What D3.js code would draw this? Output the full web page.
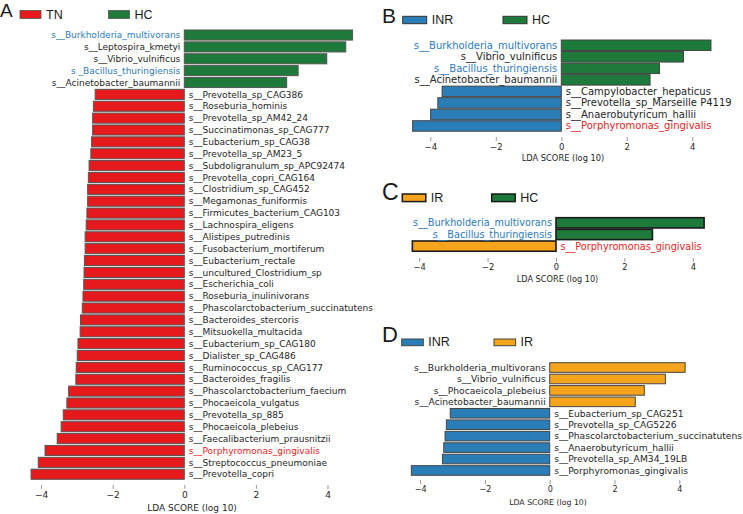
<!DOCTYPE html>
<html>
<head>
<meta charset="utf-8">
<script src="https://cdn.jsdelivr.net/npm/d3@7/dist/d3.min.js"></script>
<style>
  html, body { margin: 0; padding: 0; background: #ffffff; }
  svg { display: block; }
</style>
</head>
<body>
<svg id="chart" width="743" height="514"></svg>
<script>
// ---------------- DATA ----------------
const aSpecies = ["s__Burkholderia_multivorans","s__Leptospira_kmetyi","s__Vibrio_vulnificus","s _Bacillus_thuringiensis","s__Acinetobacter_baumannii","s__Prevotella_sp_CAG386","s__Roseburia_hominis","s__Prevotella_sp_AM42_24","s__Succinatimonas_sp_CAG777","s__Eubacterium_sp_CAG38","s__Prevotella_sp_AM23_5","s__Subdoligranulum_sp_APC92474","s__Prevotella_copri_CAG164","s__Clostridium_sp_CAG452","s__Megamonas_funiformis","s__Firmicutes_bacterium_CAG103","s__Lachnospira_eligens","s__Alistipes_putredinis","s__Fusobacterium_mortiferum","s__Eubacterium_rectale","s__uncultured_Clostridium_sp","s__Escherichia_coli","s__Roseburia_inulinivorans","s__Phascolarctobacterium_succinatutens","s__Bacteroides_stercoris","s__Mitsuokella_multacida","s__Eubacterium_sp_CAG180","s__Dialister_sp_CAG486","s__Ruminococcus_sp_CAG177","s__Bacteroides_fragilis","s__Phascolarctobacterium_faecium","s__Phocaeicola_vulgatus","s__Prevotella_sp_885","s__Phocaeicola_plebeius","s__Faecalibacterium_prausnitzii","s__Porphyromonas_gingivalis","s__Streptococcus_pneumoniae","s__Prevotella_copri"];
const aScores = [4.70,4.51,3.98,3.18,2.86,-2.49,-2.54,-2.56,-2.56,-2.59,-2.61,-2.66,-2.68,-2.70,-2.70,-2.72,-2.74,-2.77,-2.77,-2.79,-2.80,-2.81,-2.83,-2.85,-2.90,-2.91,-2.97,-2.99,-3.02,-3.03,-3.23,-3.28,-3.38,-3.44,-3.55,-3.89,-4.08,-4.28];
const aGroups = ["TN","HC"];
const aBlue = ["s__Burkholderia_multivorans","s _Bacillus_thuringiensis"];
const aRed = ["s__Porphyromonas_gingivalis"];

const bSpecies = ["s__Burkholderia_multivorans","s__Vibrio_vulnificus","s__Bacillus_thuringiensis","s__Acinetobacter_baumannii","s__Campylobacter_hepaticus","s__Prevotella_sp_Marseille P4119","s__Anaerobutyricum_hallii","s__Porphyromonas_gingivalis"];
const bScores = [4.57,3.73,3.00,2.71,-3.64,-3.77,-3.99,-4.54];
const bGroups = ["INR","HC"];
const bBlue = ["s__Burkholderia_multivorans","s__Bacillus_thuringiensis"];
const bRed = ["s__Porphyromonas_gingivalis"];

const cSpecies = ["s__Burkholderia_multivorans","s__Bacillus_thuringiensis","s__Porphyromonas_gingivalis"];
const cScores = [4.33,2.82,-4.20];
const cGroups = ["IR","HC"];
const cBlue = ["s__Burkholderia_multivorans","s__Bacillus_thuringiensis"];
const cRed = ["s__Porphyromonas_gingivalis"];

const dSpecies = ["s__Burkholderia_multivorans","s__Vibrio_vulnificus","s__Phocaeicola_plebeius","s__Acinetobacter_baumannii","s__Eubacterium_sp_CAG251","s__Prevotella_sp_CAG5226","s__Phascolarctobacterium_succinatutens","s__Anaerobutyricum_hallii","s__Prevotella_sp_AM34_19LB","s__Porphyromonas_gingivalis"];
const dScores = [4.18,3.57,2.92,2.64,-3.07,-3.19,-3.23,-3.27,-3.31,-4.27];
const dGroups = ["INR","IR"];
const dBlue = [];
const dRed = [];

const tickValues = [-4,-2,0,2,4];
const axisTitle = "LDA SCORE (log 10)";

// ---------------- COLORS ----------------
const COL = { TN: "#e6191d", HC: "#1e7a3a", INR: "#2b7db8", IR: "#f5a41c" };
const LABEL_BLUE = "#2b7bc2", LABEL_RED = "#ec1c24", LABEL_DEF = "#262626";

const svg = d3.select("#chart");

function panel(cfg) {
  const g = svg.append("g");
  const x = d3.scaleLinear().domain([-5, 5]).range([cfg.zero - 5 * cfg.unit, cfg.zero + 5 * cfg.unit]);
  const n = cfg.species.length;
  const y = d3.scaleBand().domain(d3.range(n))
    .range([cfg.y0, cfg.y0 + n * cfg.step])
    .paddingInner(cfg.pad).paddingOuter(cfg.pad / 2);
  const rows = cfg.species.map((s, i) => ({ s, v: cfg.scores[i], i }));
  const negGroup = cfg.groups[0], posGroup = cfg.groups[1];

  // bars
  g.selectAll("rect.bar").data(rows).enter().append("rect")
    .attr("class", "bar")
    .attr("x", d => x(Math.min(0, d.v)))
    .attr("y", d => y(d.i))
    .attr("width", d => Math.abs(x(d.v) - x(0)))
    .attr("height", y.bandwidth())
    .attr("fill", d => COL[d.v < 0 ? negGroup : posGroup])
    .attr("stroke", cfg.stroke)
    .attr("stroke-width", cfg.strokeW);

  // labels
  g.selectAll("text.lab").data(rows).enter().append("text")
    .attr("class", "lab")
    .attr("x", d => d.v < 0 ? x(0) + 4.5 : x(0) - 4)
    .attr("y", d => y(d.i) + y.bandwidth() / 2)
    .attr("dy", "0.35em")
    .attr("text-anchor", d => d.v < 0 ? "start" : "end")
    .attr("font-family", "DejaVu Sans, sans-serif")
    .attr("font-size", cfg.labelSize)
    .attr("fill", d => cfg.blue.includes(d.s) ? LABEL_BLUE : (cfg.red.includes(d.s) ? LABEL_RED : LABEL_DEF))
    .text(d => d.s);

  // axis
  const ax = d3.axisBottom(x).tickValues(tickValues).tickSize(4).tickPadding(cfg.tickPad);
  const axg = g.append("g").attr("transform", `translate(0,${cfg.axisY})`).call(ax);
  axg.select(".domain").remove();
  axg.selectAll(".tick line").attr("stroke", "#9a9a9a");
  axg.selectAll(".tick text")
    .attr("font-family", "DejaVu Sans, sans-serif")
    .attr("font-size", cfg.tickSize)
    .attr("fill", "#262626");
  g.append("text")
    .attr("x", cfg.titleX).attr("y", cfg.titleY)
    .attr("text-anchor", "middle")
    .attr("font-family", "DejaVu Sans, sans-serif")
    .attr("font-size", cfg.titleSize)
    .attr("fill", "#262626")
    .text(axisTitle);

  // panel letter
  g.append("text")
    .attr("x", cfg.letterX).attr("y", cfg.letterY)
    .attr("font-family", "Liberation Sans, Arial, sans-serif")
    .attr("font-size", cfg.letterSize)
    .attr("fill", "#1a1a1a")
    .text(cfg.letter);

  // legend
  cfg.groups.forEach((grp, k) => {
    const lx = cfg.legX[k];
    g.append("rect")
      .attr("x", lx).attr("y", cfg.legY)
      .attr("width", cfg.legW).attr("height", cfg.legH)
      .attr("fill", COL[grp])
      .attr("stroke", cfg.legStroke).attr("stroke-width", cfg.legStrokeW);
    g.append("text")
      .attr("x", lx + cfg.legW + 5).attr("y", cfg.legY + cfg.legH)
      .attr("font-family", "Liberation Sans, Arial, sans-serif")
      .attr("font-size", 12.5)
      .attr("fill", "#1a1a1a")
      .text(grp);
  });
}

panel({
  species: aSpecies, scores: aScores, groups: aGroups, blue: aBlue, red: aRed,
  zero: 184.3, unit: 35.8, y0: 29.1, step: 11.87, pad: 0.15,
  stroke: "#555", strokeW: 1, labelSize: 9,
  axisY: 485, tickPad: 2.5, tickSize: 9, titleX: 192, titleY: 511, titleSize: 9,
  letter: "A", letterX: 0, letterY: 17, letterSize: 19,
  legX: [20, 108.5], legY: 10.5, legW: 21, legH: 8, legStroke: "#555", legStrokeW: 0.8
});

panel({
  species: bSpecies, scores: bScores, groups: bGroups, blue: bBlue, red: bRed,
  zero: 561.3, unit: 32.75, y0: 39.5, step: 11.53, pad: 0.09,
  stroke: "#444", strokeW: 1, labelSize: 10,
  axisY: 137, tickPad: 2.5, tickSize: 8.5, titleX: 563, titleY: 161, titleSize: 8.3,
  letter: "B", letterX: 382, letterY: 22.7, letterSize: 21,
  legX: [402.7, 503], legY: 16.3, legW: 24, legH: 7.4, legStroke: "#333", legStrokeW: 1
});

panel({
  species: cSpecies, scores: cScores, groups: cGroups, blue: cBlue, red: cRed,
  zero: 556, unit: 34.2, y0: 217, step: 11.65, pad: 0.12,
  stroke: "#1a1a1a", strokeW: 1.6, labelSize: 9.7,
  axisY: 258, tickPad: 2.5, tickSize: 8.3, titleX: 557.5, titleY: 282, titleSize: 8.2,
  letter: "C", letterX: 382, letterY: 200, letterSize: 23,
  legX: [402.3, 491.7], legY: 194, legW: 23.5, legH: 7.6, legStroke: "#1a1a1a", legStrokeW: 1.5
});

panel({
  species: dSpecies, scores: dScores, groups: dGroups, blue: dBlue, red: dRed,
  zero: 549.7, unit: 32.4, y0: 361.8, step: 11.44, pad: 0.16,
  stroke: "#444", strokeW: 1, labelSize: 9.2,
  axisY: 480, tickPad: 2.5, tickSize: 8, titleX: 548, titleY: 505, titleSize: 7.8,
  letter: "D", letterX: 382, letterY: 341.7, letterSize: 22,
  legX: [401.7, 494], legY: 339, legW: 21.6, legH: 6.7, legStroke: "#444", legStrokeW: 1
});
</script>
</body>
</html>
